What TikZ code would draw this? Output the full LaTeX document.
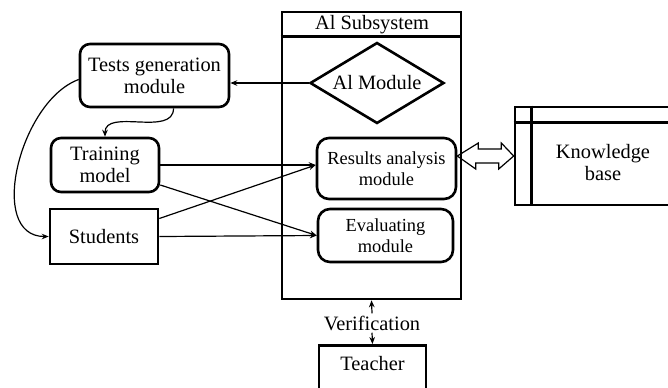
\documentclass[tikz,border=0pt]{standalone}
\usepackage{fontspec}
\setmainfont{Liberation Serif}
\usetikzlibrary{arrows.meta,shapes.geometric}

\begin{document}
\begin{tikzpicture}[x=0.5pt, y=-0.5pt, >={Stealth[length=3.5pt,width=2.8pt]},
  box/.style={draw, line width=1.3pt, align=center, inner sep=1pt, font=\fontsize{10.2}{11}\selectfont},
  rbox/.style={box, rounded corners=5pt},
  mbox/.style={rbox, rounded corners=6pt, font=\fontsize{9.2}{10.5}\selectfont},
  lbl/.style={font=\fontsize{10.2}{11}\selectfont, align=center, inner sep=1pt},
  link/.style={->, line width=0.6pt}]
  \useasboundingbox (0,0) rectangle (668,387);

  \node[box, minimum width=89.5pt, minimum height=143.5pt] (sub) at (371.5,155.5) {};
  \draw[line width=1.3pt] ([yshift=-13pt]sub.north west) -- ([yshift=-13pt]sub.north east);
  \node[lbl] (subtitle) at (372,25) {Al Subsystem};
  \node[box, diamond, aspect=1.65, inner sep=0pt, minimum width=67pt, minimum height=40.5pt] (aimod) at (377,83) {Al Module};
  \node[mbox, minimum width=69.5pt, minimum height=30.5pt] (results) at (386.5,168.5) {Results analysis\\ module};
  \node[mbox, minimum width=67.5pt, minimum height=26.5pt] (eval) at (385.5,235.5) {Evaluating\\ module};

  \node[rbox, minimum width=74.5pt, minimum height=31.5pt] (tests) at (154.5,75.5) {Tests generation\\ module};
  \node[rbox, minimum width=54pt, minimum height=27pt] (training) at (105,165) {Training\\ model};
  \node[box, minimum width=54pt, minimum height=27.5pt] (students) at (104,236.5) {Students};

  \node[box, minimum width=87.5pt, minimum height=49pt] (kb) at (602.5,156) {};
  \draw[line width=1.3pt] ([xshift=9pt]kb.north west) -- ([xshift=9pt]kb.south west);
  \draw[line width=1.3pt] ([yshift=-8.5pt]kb.north west) -- ([yshift=-8.5pt]kb.north east);
  \node[lbl] (kbtext) at (603,163) {Knowledge\\ base};

  \node[lbl] (verif) at (372,323) {Verification};
  \node[box, minimum width=53.5pt, minimum height=40pt, anchor=north] (teacher) at (372.5,344) {};
  \node[lbl] (teachertext) at (372.5,364) {Teacher};

  \draw[link] (aimod.west) -- (tests.east |- aimod.west);
  \draw[link] ([xshift=9.5pt]tests.south) to[out=-90, in=90] (training.north);
  \draw[link] ([yshift=-2pt]tests.west) to[out=200, in=180] (students.west);
  \draw[link] (training.east) -- ([yshift=1.75pt]results.west);
  \draw[link] ([yshift=-10pt]training.east) -- (eval.west);
  \draw[link] ([yshift=9pt]students.east) -- ([yshift=1.75pt]results.west);
  \draw[link] (students.east) -- (eval.west);
  \draw[line width=0.6pt] (results.east |- kb.west) -- ++(21,-13) -- ++(0,6) -- ++(23,0) -- ++(0,-6)
    -- (kb.west) -- ++(-15,13) -- ++(0,-6) -- ++(-23,0) -- ++(0,6) -- cycle;
  \draw[link] (verif.north) -- (sub.south);
  \draw[link] (verif.south) -- (teacher.north);
\end{tikzpicture}
\end{document}
